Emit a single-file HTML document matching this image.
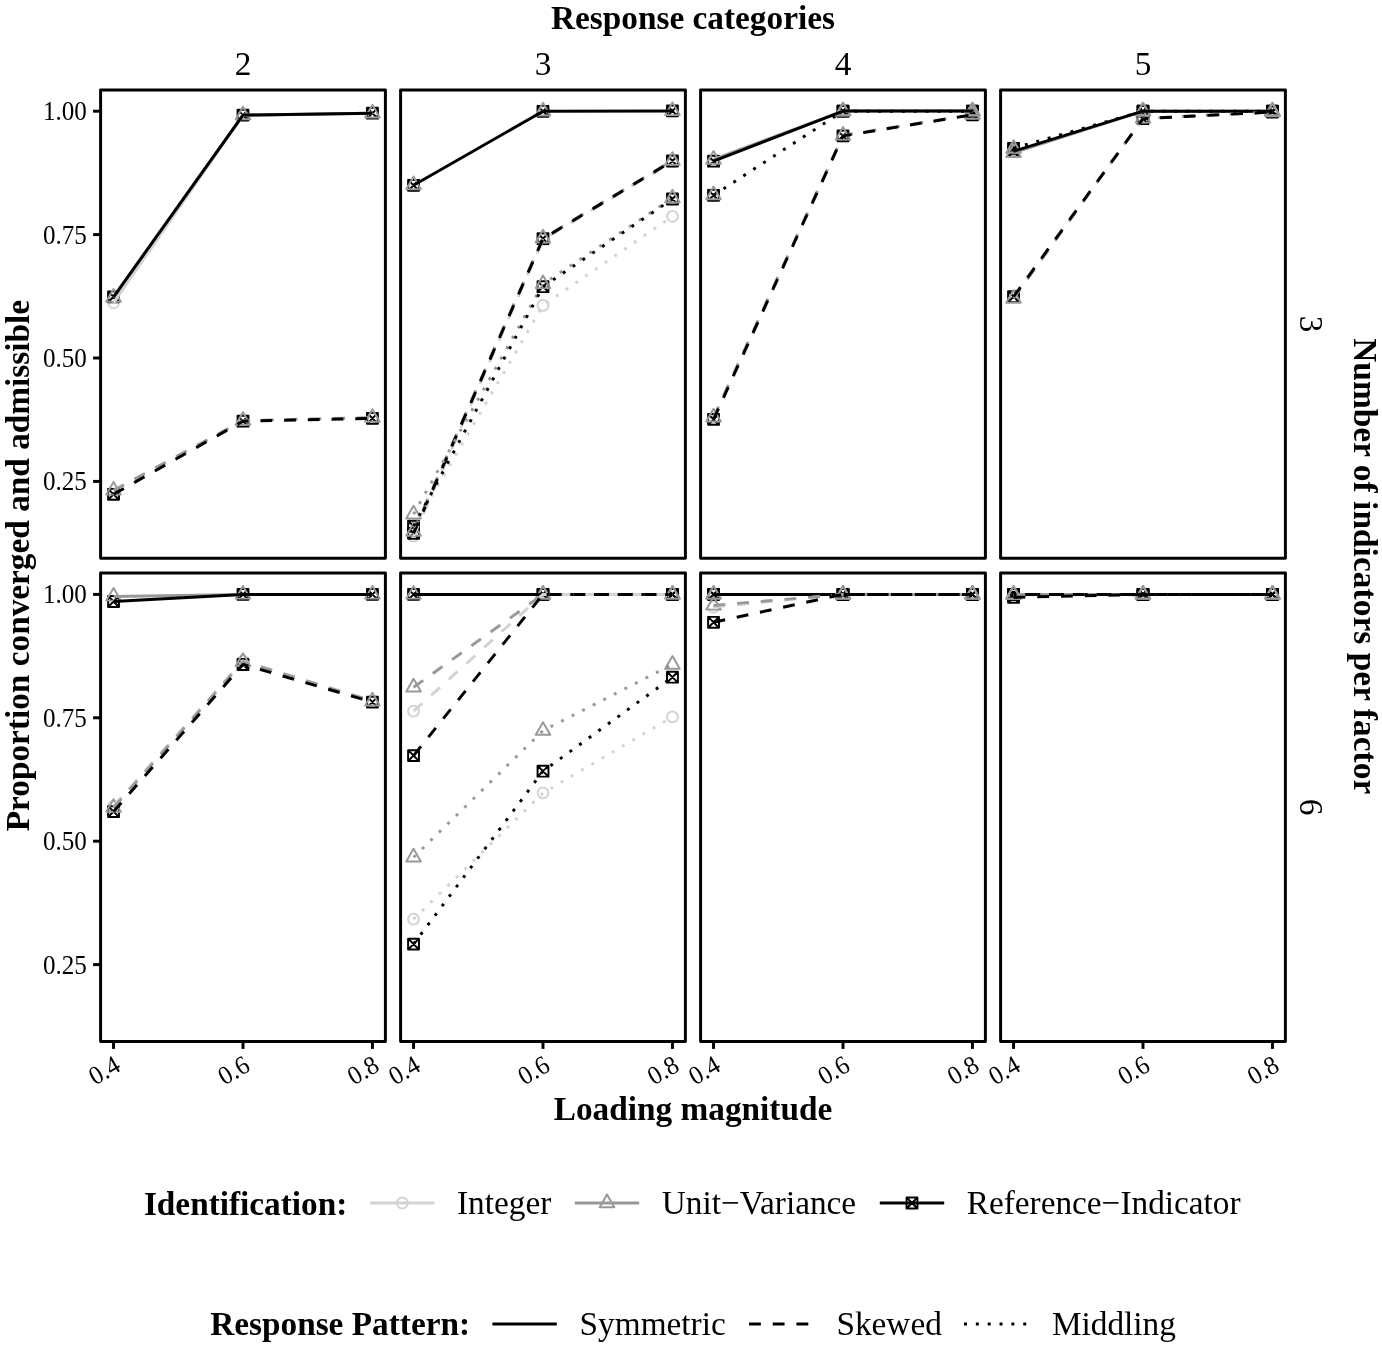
<!DOCTYPE html>
<html lang="en"><head><meta charset="utf-8"><title>Proportion converged and admissible</title>
<style>
html,body{margin:0;padding:0;background:#fff}
svg{display:block}
text{font-family:"Liberation Serif",serif;fill:#000}
.b{font-weight:bold;font-size:33.3px}
.s{font-size:33.3px}
.a{font-size:26.3px}
.ln{fill:none;stroke-width:2.964;stroke-linejoin:round;stroke-linecap:butt}
.pt{fill:none;stroke-width:1.97;stroke-linejoin:round;stroke-linecap:round}
</style></head><body>
<svg width="1382" height="1347" viewBox="0 0 1382 1347">
<rect width="1382" height="1347" fill="#fff"/>
<text class="b" x="693" y="28.9" text-anchor="middle">Response categories</text>
<text class="s" x="243" y="74.5" text-anchor="middle">2</text>
<text class="s" x="543" y="74.5" text-anchor="middle">3</text>
<text class="s" x="843" y="74.5" text-anchor="middle">4</text>
<text class="s" x="1143" y="74.5" text-anchor="middle">5</text>
<text class="s" transform="translate(1300,324.1) rotate(90)" text-anchor="middle">3</text>
<text class="s" transform="translate(1300,807.2) rotate(90)" text-anchor="middle">6</text>
<text class="b" transform="translate(1353.7,338.2) rotate(90)" textLength="456" lengthAdjust="spacing">Number of indicators per factor</text>
<text class="b" transform="translate(29.3,565.6) rotate(-90)" text-anchor="middle">Proportion converged and admissible</text>
<text class="b" x="693" y="1120" text-anchor="middle">Loading magnitude</text>
<text class="a" x="86.8" y="120.1" text-anchor="end" textLength="43.9" lengthAdjust="spacingAndGlyphs">1.00</text>
<line class="ln" stroke="#000" x1="93.1" x2="100.6" y1="111.2" y2="111.2"/>
<text class="a" x="86.8" y="243.5" text-anchor="end" textLength="43.9" lengthAdjust="spacingAndGlyphs">0.75</text>
<line class="ln" stroke="#000" x1="93.1" x2="100.6" y1="234.6" y2="234.6"/>
<text class="a" x="86.8" y="366.9" text-anchor="end" textLength="43.9" lengthAdjust="spacingAndGlyphs">0.50</text>
<line class="ln" stroke="#000" x1="93.1" x2="100.6" y1="358" y2="358"/>
<text class="a" x="86.8" y="490.3" text-anchor="end" textLength="43.9" lengthAdjust="spacingAndGlyphs">0.25</text>
<line class="ln" stroke="#000" x1="93.1" x2="100.6" y1="481.4" y2="481.4"/>
<text class="a" x="86.8" y="603.3" text-anchor="end" textLength="43.9" lengthAdjust="spacingAndGlyphs">1.00</text>
<line class="ln" stroke="#000" x1="93.1" x2="100.6" y1="594.4" y2="594.4"/>
<text class="a" x="86.8" y="726.7" text-anchor="end" textLength="43.9" lengthAdjust="spacingAndGlyphs">0.75</text>
<line class="ln" stroke="#000" x1="93.1" x2="100.6" y1="717.8" y2="717.8"/>
<text class="a" x="86.8" y="850.1" text-anchor="end" textLength="43.9" lengthAdjust="spacingAndGlyphs">0.50</text>
<line class="ln" stroke="#000" x1="93.1" x2="100.6" y1="841.2" y2="841.2"/>
<text class="a" x="86.8" y="973.5" text-anchor="end" textLength="43.9" lengthAdjust="spacingAndGlyphs">0.25</text>
<line class="ln" stroke="#000" x1="93.1" x2="100.6" y1="964.6" y2="964.6"/>
<line class="ln" stroke="#000" x1="113.55" x2="113.55" y1="1041.4" y2="1048.9"/>
<text class="a" transform="translate(112.85,1054.1) rotate(-30)" text-anchor="end" dy="0.7em" textLength="31.4" lengthAdjust="spacingAndGlyphs">0.4</text>
<line class="ln" stroke="#000" x1="243" x2="243" y1="1041.4" y2="1048.9"/>
<text class="a" transform="translate(242.3,1054.1) rotate(-30)" text-anchor="end" dy="0.7em" textLength="31.4" lengthAdjust="spacingAndGlyphs">0.6</text>
<line class="ln" stroke="#000" x1="372.45" x2="372.45" y1="1041.4" y2="1048.9"/>
<text class="a" transform="translate(371.75,1054.1) rotate(-30)" text-anchor="end" dy="0.7em" textLength="31.4" lengthAdjust="spacingAndGlyphs">0.8</text>
<line class="ln" stroke="#000" x1="413.55" x2="413.55" y1="1041.4" y2="1048.9"/>
<text class="a" transform="translate(412.85,1054.1) rotate(-30)" text-anchor="end" dy="0.7em" textLength="31.4" lengthAdjust="spacingAndGlyphs">0.4</text>
<line class="ln" stroke="#000" x1="543" x2="543" y1="1041.4" y2="1048.9"/>
<text class="a" transform="translate(542.3,1054.1) rotate(-30)" text-anchor="end" dy="0.7em" textLength="31.4" lengthAdjust="spacingAndGlyphs">0.6</text>
<line class="ln" stroke="#000" x1="672.45" x2="672.45" y1="1041.4" y2="1048.9"/>
<text class="a" transform="translate(671.75,1054.1) rotate(-30)" text-anchor="end" dy="0.7em" textLength="31.4" lengthAdjust="spacingAndGlyphs">0.8</text>
<line class="ln" stroke="#000" x1="713.55" x2="713.55" y1="1041.4" y2="1048.9"/>
<text class="a" transform="translate(712.85,1054.1) rotate(-30)" text-anchor="end" dy="0.7em" textLength="31.4" lengthAdjust="spacingAndGlyphs">0.4</text>
<line class="ln" stroke="#000" x1="843" x2="843" y1="1041.4" y2="1048.9"/>
<text class="a" transform="translate(842.3,1054.1) rotate(-30)" text-anchor="end" dy="0.7em" textLength="31.4" lengthAdjust="spacingAndGlyphs">0.6</text>
<line class="ln" stroke="#000" x1="972.45" x2="972.45" y1="1041.4" y2="1048.9"/>
<text class="a" transform="translate(971.75,1054.1) rotate(-30)" text-anchor="end" dy="0.7em" textLength="31.4" lengthAdjust="spacingAndGlyphs">0.8</text>
<line class="ln" stroke="#000" x1="1013.55" x2="1013.55" y1="1041.4" y2="1048.9"/>
<text class="a" transform="translate(1012.85,1054.1) rotate(-30)" text-anchor="end" dy="0.7em" textLength="31.4" lengthAdjust="spacingAndGlyphs">0.4</text>
<line class="ln" stroke="#000" x1="1143" x2="1143" y1="1041.4" y2="1048.9"/>
<text class="a" transform="translate(1142.3,1054.1) rotate(-30)" text-anchor="end" dy="0.7em" textLength="31.4" lengthAdjust="spacingAndGlyphs">0.6</text>
<line class="ln" stroke="#000" x1="1272.45" x2="1272.45" y1="1041.4" y2="1048.9"/>
<text class="a" transform="translate(1271.75,1054.1) rotate(-30)" text-anchor="end" dy="0.7em" textLength="31.4" lengthAdjust="spacingAndGlyphs">0.8</text>
<g>
<g class="pt"><circle cx="113.55" cy="302.8" r="5.43" stroke="#d3d3d3"/><circle cx="243" cy="115.1" r="5.43" stroke="#d3d3d3"/><circle cx="372.45" cy="113.2" r="5.43" stroke="#d3d3d3"/><circle cx="113.55" cy="494" r="5.43" stroke="#d3d3d3"/><circle cx="243" cy="421.2" r="5.43" stroke="#d3d3d3"/><circle cx="372.45" cy="418.3" r="5.43" stroke="#d3d3d3"/><path d="M108.12 291.37H118.98V302.23H108.12ZM108.12 291.37L118.98 302.23M108.12 302.23L118.98 291.37" stroke="#000000"/><path d="M237.57 109.67H248.43V120.53H237.57ZM237.57 109.67L248.43 120.53M237.57 120.53L248.43 109.67" stroke="#000000"/><path d="M367.02 107.77H377.88V118.63H367.02ZM367.02 107.77L377.88 118.63M367.02 118.63L377.88 107.77" stroke="#000000"/><path d="M108.12 488.87H118.98V499.73H108.12ZM108.12 488.87L118.98 499.73M108.12 499.73L118.98 488.87" stroke="#000000"/><path d="M237.57 415.77H248.43V426.63H237.57ZM237.57 415.77L248.43 426.63M237.57 426.63L248.43 415.77" stroke="#000000"/><path d="M367.02 412.87H377.88V423.73H367.02ZM367.02 412.87L377.88 423.73M367.02 423.73L377.88 412.87" stroke="#000000"/><path d="M113.55 289.06L120.86 301.72L106.24 301.72Z" stroke="#999999"/><path d="M243 106.66L250.31 119.32L235.69 119.32Z" stroke="#999999"/><path d="M372.45 104.76L379.76 117.42L365.14 117.42Z" stroke="#999999"/><path d="M113.55 481.96L120.86 494.62L106.24 494.62Z" stroke="#999999"/><path d="M243 412.16L250.31 424.82L235.69 424.82Z" stroke="#999999"/><path d="M372.45 409.16L379.76 421.82L365.14 421.82Z" stroke="#999999"/></g>
<g class="ln"><polyline points="113.55,302.8 243,115.1 372.45,113.2" stroke="#d3d3d3"/><polyline points="113.55,297.5 243,115.1 372.45,113.2" stroke="#999999"/><polyline points="113.55,296.8 243,115.1 372.45,113.2" stroke="#000000"/><polyline points="113.55,490.4 243,420.6 372.45,417.6" stroke="#999999" stroke-dasharray="11.86 11.86"/><polyline points="113.55,494.3 243,421.2 372.45,418.3" stroke="#000000" stroke-dasharray="11.86 11.86"/></g>
<rect class="ln" x="100.6" y="89.9" width="284.8" height="468.4" stroke="#000"/>
</g>
<g>
<g class="pt"><circle cx="413.55" cy="185.6" r="5.43" stroke="#d3d3d3"/><circle cx="543" cy="111.3" r="5.43" stroke="#d3d3d3"/><circle cx="672.45" cy="110.9" r="5.43" stroke="#d3d3d3"/><circle cx="413.55" cy="536.2" r="5.43" stroke="#d3d3d3"/><circle cx="543" cy="239.6" r="5.43" stroke="#d3d3d3"/><circle cx="672.45" cy="161.6" r="5.43" stroke="#d3d3d3"/><circle cx="413.55" cy="527.2" r="5.43" stroke="#d3d3d3"/><circle cx="543" cy="305.4" r="5.43" stroke="#d3d3d3"/><circle cx="672.45" cy="216.3" r="5.43" stroke="#d3d3d3"/><path d="M408.12 179.87H418.98V190.73H408.12ZM408.12 179.87L418.98 190.73M408.12 190.73L418.98 179.87" stroke="#000000"/><path d="M537.57 105.87H548.43V116.73H537.57ZM537.57 105.87L548.43 116.73M537.57 116.73L548.43 105.87" stroke="#000000"/><path d="M667.02 105.47H677.88V116.33H667.02ZM667.02 105.47L677.88 116.33M667.02 116.33L677.88 105.47" stroke="#000000"/><path d="M408.12 527.87H418.98V538.73H408.12ZM408.12 527.87L418.98 538.73M408.12 538.73L418.98 527.87" stroke="#000000"/><path d="M537.57 233.27H548.43V244.13H537.57ZM537.57 233.27L548.43 244.13M537.57 244.13L548.43 233.27" stroke="#000000"/><path d="M667.02 155.57H677.88V166.43H667.02ZM667.02 155.57L677.88 166.43M667.02 166.43L677.88 155.57" stroke="#000000"/><path d="M408.12 520.77H418.98V531.63H408.12ZM408.12 520.77L418.98 531.63M408.12 531.63L418.98 520.77" stroke="#000000"/><path d="M537.57 281.27H548.43V292.13H537.57ZM537.57 281.27L548.43 292.13M537.57 292.13L548.43 281.27" stroke="#000000"/><path d="M667.02 193.57H677.88V204.43H667.02ZM667.02 193.57L677.88 204.43M667.02 204.43L677.88 193.57" stroke="#000000"/><path d="M413.55 176.56L420.86 189.22L406.24 189.22Z" stroke="#999999"/><path d="M543 102.86L550.31 115.52L535.69 115.52Z" stroke="#999999"/><path d="M672.45 102.46L679.76 115.12L665.14 115.12Z" stroke="#999999"/><path d="M413.55 523.06L420.86 535.72L406.24 535.72Z" stroke="#999999"/><path d="M543 229.76L550.31 242.42L535.69 242.42Z" stroke="#999999"/><path d="M672.45 152.16L679.76 164.82L665.14 164.82Z" stroke="#999999"/><path d="M413.55 505.76L420.86 518.42L406.24 518.42Z" stroke="#999999"/><path d="M543 275.46L550.31 288.12L535.69 288.12Z" stroke="#999999"/><path d="M672.45 189.76L679.76 202.42L665.14 202.42Z" stroke="#999999"/></g>
<g class="ln"><polyline points="413.55,185.3 543,111.3 672.45,110.9" stroke="#000000"/><polyline points="413.55,536.2 543,239.6 672.45,161.6" stroke="#d3d3d3" stroke-dasharray="11.86 11.86"/><polyline points="413.55,531.5 543,238.2 672.45,160.6" stroke="#999999" stroke-dasharray="11.86 11.86"/><polyline points="413.55,533.3 543,238.7 672.45,161" stroke="#000000" stroke-dasharray="11.86 11.86"/><polyline points="413.55,527.2 543,305.4 672.45,216.3" stroke="#d3d3d3" stroke-dasharray="2.96 8.89"/><polyline points="413.55,514.2 543,283.9 672.45,198.2" stroke="#999999" stroke-dasharray="2.96 8.89"/><polyline points="413.55,526.2 543,286.7 672.45,199" stroke="#000000" stroke-dasharray="2.96 8.89"/></g>
<rect class="ln" x="400.6" y="89.9" width="284.8" height="468.4" stroke="#000"/>
</g>
<g>
<g class="pt"><circle cx="713.55" cy="161.2" r="5.43" stroke="#d3d3d3"/><circle cx="843" cy="111.1" r="5.43" stroke="#d3d3d3"/><circle cx="972.45" cy="111.1" r="5.43" stroke="#d3d3d3"/><circle cx="713.55" cy="419" r="5.43" stroke="#d3d3d3"/><circle cx="843" cy="135.9" r="5.43" stroke="#d3d3d3"/><circle cx="972.45" cy="114.8" r="5.43" stroke="#d3d3d3"/><circle cx="713.55" cy="195.3" r="5.43" stroke="#d3d3d3"/><circle cx="843" cy="111.2" r="5.43" stroke="#d3d3d3"/><circle cx="972.45" cy="111.2" r="5.43" stroke="#d3d3d3"/><path d="M708.12 155.77H718.98V166.63H708.12ZM708.12 155.77L718.98 166.63M708.12 166.63L718.98 155.77" stroke="#000000"/><path d="M837.57 105.67H848.43V116.53H837.57ZM837.57 105.67L848.43 116.53M837.57 116.53L848.43 105.67" stroke="#000000"/><path d="M967.02 105.67H977.88V116.53H967.02ZM967.02 105.67L977.88 116.53M967.02 116.53L977.88 105.67" stroke="#000000"/><path d="M708.12 413.97H718.98V424.83H708.12ZM708.12 413.97L718.98 424.83M708.12 424.83L718.98 413.97" stroke="#000000"/><path d="M837.57 130.47H848.43V141.33H837.57ZM837.57 130.47L848.43 141.33M837.57 141.33L848.43 130.47" stroke="#000000"/><path d="M967.02 109.37H977.88V120.23H967.02ZM967.02 109.37L977.88 120.23M967.02 120.23L977.88 109.37" stroke="#000000"/><path d="M708.12 189.87H718.98V200.73H708.12ZM708.12 189.87L718.98 200.73M708.12 200.73L718.98 189.87" stroke="#000000"/><path d="M837.57 105.77H848.43V116.63H837.57ZM837.57 105.77L848.43 116.63M837.57 116.63L848.43 105.77" stroke="#000000"/><path d="M967.02 105.77H977.88V116.63H967.02ZM967.02 105.77L977.88 116.63M967.02 116.63L977.88 105.77" stroke="#000000"/><path d="M713.55 151.06L720.86 163.72L706.24 163.72Z" stroke="#999999"/><path d="M843 102.66L850.31 115.32L835.69 115.32Z" stroke="#999999"/><path d="M972.45 102.66L979.76 115.32L965.14 115.32Z" stroke="#999999"/><path d="M713.55 408.86L720.86 421.52L706.24 421.52Z" stroke="#999999"/><path d="M843 126.96L850.31 139.62L835.69 139.62Z" stroke="#999999"/><path d="M972.45 106.16L979.76 118.82L965.14 118.82Z" stroke="#999999"/><path d="M713.55 186.56L720.86 199.22L706.24 199.22Z" stroke="#999999"/><path d="M843 102.76L850.31 115.42L835.69 115.42Z" stroke="#999999"/><path d="M972.45 102.76L979.76 115.42L965.14 115.42Z" stroke="#999999"/></g>
<g class="ln"><polyline points="713.55,159.5 843,111.1 972.45,111.1" stroke="#999999"/><polyline points="713.55,161.2 843,111.1 972.45,111.1" stroke="#000000"/><polyline points="713.55,417.3 843,135.4 972.45,114.6" stroke="#999999" stroke-dasharray="11.86 11.86"/><polyline points="713.55,419.4 843,135.9 972.45,114.8" stroke="#000000" stroke-dasharray="11.86 11.86"/><polyline points="713.55,195.3 843,111.2 972.45,111.2" stroke="#000000" stroke-dasharray="2.96 8.89"/></g>
<rect class="ln" x="700.6" y="89.9" width="284.8" height="468.4" stroke="#000"/>
</g>
<g>
<g class="pt"><circle cx="1013.55" cy="151.4" r="5.43" stroke="#d3d3d3"/><circle cx="1143" cy="111.2" r="5.43" stroke="#d3d3d3"/><circle cx="1272.45" cy="111.2" r="5.43" stroke="#d3d3d3"/><circle cx="1013.55" cy="297" r="5.43" stroke="#d3d3d3"/><circle cx="1143" cy="118.7" r="5.43" stroke="#d3d3d3"/><circle cx="1272.45" cy="112" r="5.43" stroke="#d3d3d3"/><circle cx="1013.55" cy="148.5" r="5.43" stroke="#d3d3d3"/><circle cx="1143" cy="111.2" r="5.43" stroke="#d3d3d3"/><circle cx="1272.45" cy="111.2" r="5.43" stroke="#d3d3d3"/><path d="M1008.12 145.87H1018.98V156.73H1008.12ZM1008.12 145.87L1018.98 156.73M1008.12 156.73L1018.98 145.87" stroke="#000000"/><path d="M1137.57 105.77H1148.43V116.63H1137.57ZM1137.57 105.77L1148.43 116.63M1137.57 116.63L1148.43 105.77" stroke="#000000"/><path d="M1267.02 105.77H1277.88V116.63H1267.02ZM1267.02 105.77L1277.88 116.63M1267.02 116.63L1277.88 105.77" stroke="#000000"/><path d="M1008.12 291.27H1018.98V302.13H1008.12ZM1008.12 291.27L1018.98 302.13M1008.12 302.13L1018.98 291.27" stroke="#000000"/><path d="M1137.57 113.27H1148.43V124.13H1137.57ZM1137.57 113.27L1148.43 124.13M1137.57 124.13L1148.43 113.27" stroke="#000000"/><path d="M1267.02 106.57H1277.88V117.43H1267.02ZM1267.02 106.57L1277.88 117.43M1267.02 117.43L1277.88 106.57" stroke="#000000"/><path d="M1008.12 142.87H1018.98V153.73H1008.12ZM1008.12 142.87L1018.98 153.73M1008.12 153.73L1018.98 142.87" stroke="#000000"/><path d="M1137.57 105.77H1148.43V116.63H1137.57ZM1137.57 105.77L1148.43 116.63M1137.57 116.63L1148.43 105.77" stroke="#000000"/><path d="M1267.02 105.77H1277.88V116.63H1267.02ZM1267.02 105.77L1277.88 116.63M1267.02 116.63L1277.88 105.77" stroke="#000000"/><path d="M1013.55 144.36L1020.86 157.02L1006.24 157.02Z" stroke="#999999"/><path d="M1143 102.76L1150.31 115.42L1135.69 115.42Z" stroke="#999999"/><path d="M1272.45 102.76L1279.76 115.42L1265.14 115.42Z" stroke="#999999"/><path d="M1013.55 290.06L1020.86 302.72L1006.24 302.72Z" stroke="#999999"/><path d="M1143 109.96L1150.31 122.62L1135.69 122.62Z" stroke="#999999"/><path d="M1272.45 103.56L1279.76 116.22L1265.14 116.22Z" stroke="#999999"/><path d="M1013.55 140.16L1020.86 152.82L1006.24 152.82Z" stroke="#999999"/><path d="M1143 102.76L1150.31 115.42L1135.69 115.42Z" stroke="#999999"/><path d="M1272.45 102.76L1279.76 115.42L1265.14 115.42Z" stroke="#999999"/></g>
<g class="ln"><polyline points="1013.55,152.8 1143,111.2 1272.45,111.2" stroke="#999999"/><polyline points="1013.55,151.3 1143,111.2 1272.45,111.2" stroke="#000000"/><polyline points="1013.55,298.5 1143,118.4 1272.45,112" stroke="#999999" stroke-dasharray="11.86 11.86"/><polyline points="1013.55,296.7 1143,118.7 1272.45,112" stroke="#000000" stroke-dasharray="11.86 11.86"/><polyline points="1013.55,148.3 1143,111.2 1272.45,111.2" stroke="#000000" stroke-dasharray="2.96 8.89"/></g>
<rect class="ln" x="1000.6" y="89.9" width="284.8" height="468.4" stroke="#000"/>
</g>
<g>
<g class="pt"><circle cx="113.55" cy="601.5" r="5.43" stroke="#d3d3d3"/><circle cx="243" cy="594.4" r="5.43" stroke="#d3d3d3"/><circle cx="372.45" cy="594.4" r="5.43" stroke="#d3d3d3"/><circle cx="113.55" cy="806.2" r="5.43" stroke="#d3d3d3"/><circle cx="243" cy="660.8" r="5.43" stroke="#d3d3d3"/><circle cx="372.45" cy="700.8" r="5.43" stroke="#d3d3d3"/><path d="M108.12 596.07H118.98V606.93H108.12ZM108.12 596.07L118.98 606.93M108.12 606.93L118.98 596.07" stroke="#000000"/><path d="M237.57 588.97H248.43V599.83H237.57ZM237.57 588.97L248.43 599.83M237.57 599.83L248.43 588.97" stroke="#000000"/><path d="M367.02 588.97H377.88V599.83H367.02ZM367.02 588.97L377.88 599.83M367.02 599.83L377.88 588.97" stroke="#000000"/><path d="M108.12 806.17H118.98V817.03H108.12ZM108.12 806.17L118.98 817.03M108.12 817.03L118.98 806.17" stroke="#000000"/><path d="M237.57 659.07H248.43V669.93H237.57ZM237.57 659.07L248.43 669.93M237.57 669.93L248.43 659.07" stroke="#000000"/><path d="M367.02 696.67H377.88V707.53H367.02ZM367.02 696.67L377.88 707.53M367.02 707.53L377.88 696.67" stroke="#000000"/><path d="M113.55 587.96L120.86 600.62L106.24 600.62Z" stroke="#999999"/><path d="M243 585.96L250.31 598.62L235.69 598.62Z" stroke="#999999"/><path d="M372.45 585.96L379.76 598.62L365.14 598.62Z" stroke="#999999"/><path d="M113.55 799.16L120.86 811.82L106.24 811.82Z" stroke="#999999"/><path d="M243 653.26L250.31 665.92L235.69 665.92Z" stroke="#999999"/><path d="M372.45 692.76L379.76 705.42L365.14 705.42Z" stroke="#999999"/></g>
<g class="ln"><polyline points="113.55,596.4 243,594.4 372.45,594.4" stroke="#999999"/><polyline points="113.55,601.5 243,594.4 372.45,594.4" stroke="#000000"/><polyline points="113.55,806.2 243,660.8 372.45,700.8" stroke="#d3d3d3" stroke-dasharray="11.86 11.86"/><polyline points="113.55,807.6 243,661.7 372.45,701.2" stroke="#999999" stroke-dasharray="11.86 11.86"/><polyline points="113.55,811.6 243,664.5 372.45,702.1" stroke="#000000" stroke-dasharray="11.86 11.86"/></g>
<rect class="ln" x="100.6" y="573" width="284.8" height="468.4" stroke="#000"/>
</g>
<g>
<g class="pt"><circle cx="413.55" cy="594.4" r="5.43" stroke="#d3d3d3"/><circle cx="543" cy="594.4" r="5.43" stroke="#d3d3d3"/><circle cx="672.45" cy="594.4" r="5.43" stroke="#d3d3d3"/><circle cx="413.55" cy="711.2" r="5.43" stroke="#d3d3d3"/><circle cx="543" cy="594.4" r="5.43" stroke="#d3d3d3"/><circle cx="672.45" cy="594.4" r="5.43" stroke="#d3d3d3"/><circle cx="413.55" cy="919.2" r="5.43" stroke="#d3d3d3"/><circle cx="543" cy="792.9" r="5.43" stroke="#d3d3d3"/><circle cx="672.45" cy="716.9" r="5.43" stroke="#d3d3d3"/><path d="M408.12 588.97H418.98V599.83H408.12ZM408.12 588.97L418.98 599.83M408.12 599.83L418.98 588.97" stroke="#000000"/><path d="M537.57 588.97H548.43V599.83H537.57ZM537.57 588.97L548.43 599.83M537.57 599.83L548.43 588.97" stroke="#000000"/><path d="M667.02 588.97H677.88V599.83H667.02ZM667.02 588.97L677.88 599.83M667.02 599.83L677.88 588.97" stroke="#000000"/><path d="M408.12 750.17H418.98V761.03H408.12ZM408.12 750.17L418.98 761.03M408.12 761.03L418.98 750.17" stroke="#000000"/><path d="M537.57 588.97H548.43V599.83H537.57ZM537.57 588.97L548.43 599.83M537.57 599.83L548.43 588.97" stroke="#000000"/><path d="M667.02 588.97H677.88V599.83H667.02ZM667.02 588.97L677.88 599.83M667.02 599.83L677.88 588.97" stroke="#000000"/><path d="M408.12 938.67H418.98V949.53H408.12ZM408.12 938.67L418.98 949.53M408.12 949.53L418.98 938.67" stroke="#000000"/><path d="M537.57 765.77H548.43V776.63H537.57ZM537.57 765.77L548.43 776.63M537.57 776.63L548.43 765.77" stroke="#000000"/><path d="M667.02 671.77H677.88V682.63H667.02ZM667.02 671.77L677.88 682.63M667.02 682.63L677.88 671.77" stroke="#000000"/><path d="M413.55 585.96L420.86 598.62L406.24 598.62Z" stroke="#999999"/><path d="M543 585.96L550.31 598.62L535.69 598.62Z" stroke="#999999"/><path d="M672.45 585.96L679.76 598.62L665.14 598.62Z" stroke="#999999"/><path d="M413.55 678.86L420.86 691.52L406.24 691.52Z" stroke="#999999"/><path d="M543 585.96L550.31 598.62L535.69 598.62Z" stroke="#999999"/><path d="M672.45 585.96L679.76 598.62L665.14 598.62Z" stroke="#999999"/><path d="M413.55 848.86L420.86 861.52L406.24 861.52Z" stroke="#999999"/><path d="M543 722.16L550.31 734.82L535.69 734.82Z" stroke="#999999"/><path d="M672.45 656.06L679.76 668.72L665.14 668.72Z" stroke="#999999"/></g>
<g class="ln"><polyline points="413.55,594.4 543,594.4 672.45,594.4" stroke="#000000"/><polyline points="413.55,711.2 543,594.4 672.45,594.4" stroke="#d3d3d3" stroke-dasharray="11.86 11.86"/><polyline points="413.55,687.3 543,594.4 672.45,594.4" stroke="#999999" stroke-dasharray="11.86 11.86"/><polyline points="413.55,755.6 543,594.4 672.45,594.4" stroke="#000000" stroke-dasharray="11.86 11.86"/><polyline points="413.55,919.2 543,792.9 672.45,716.9" stroke="#d3d3d3" stroke-dasharray="2.96 8.89"/><polyline points="413.55,857.3 543,730.6 672.45,664.5" stroke="#999999" stroke-dasharray="2.96 8.89"/><polyline points="413.55,944.1 543,771.2 672.45,677.2" stroke="#000000" stroke-dasharray="2.96 8.89"/></g>
<rect class="ln" x="400.6" y="573" width="284.8" height="468.4" stroke="#000"/>
</g>
<g>
<g class="pt"><circle cx="713.55" cy="594.4" r="5.43" stroke="#d3d3d3"/><circle cx="843" cy="594.4" r="5.43" stroke="#d3d3d3"/><circle cx="972.45" cy="594.4" r="5.43" stroke="#d3d3d3"/><circle cx="713.55" cy="607" r="5.43" stroke="#d3d3d3"/><circle cx="843" cy="594.4" r="5.43" stroke="#d3d3d3"/><circle cx="972.45" cy="594.4" r="5.43" stroke="#d3d3d3"/><circle cx="713.55" cy="594.4" r="5.43" stroke="#d3d3d3"/><circle cx="843" cy="594.4" r="5.43" stroke="#d3d3d3"/><circle cx="972.45" cy="594.4" r="5.43" stroke="#d3d3d3"/><path d="M708.12 588.97H718.98V599.83H708.12ZM708.12 588.97L718.98 599.83M708.12 599.83L718.98 588.97" stroke="#000000"/><path d="M837.57 588.97H848.43V599.83H837.57ZM837.57 588.97L848.43 599.83M837.57 599.83L848.43 588.97" stroke="#000000"/><path d="M967.02 588.97H977.88V599.83H967.02ZM967.02 588.97L977.88 599.83M967.02 599.83L977.88 588.97" stroke="#000000"/><path d="M708.12 616.87H718.98V627.73H708.12ZM708.12 616.87L718.98 627.73M708.12 627.73L718.98 616.87" stroke="#000000"/><path d="M837.57 588.97H848.43V599.83H837.57ZM837.57 588.97L848.43 599.83M837.57 599.83L848.43 588.97" stroke="#000000"/><path d="M967.02 588.97H977.88V599.83H967.02ZM967.02 588.97L977.88 599.83M967.02 599.83L977.88 588.97" stroke="#000000"/><path d="M708.12 588.97H718.98V599.83H708.12ZM708.12 588.97L718.98 599.83M708.12 599.83L718.98 588.97" stroke="#000000"/><path d="M837.57 588.97H848.43V599.83H837.57ZM837.57 588.97L848.43 599.83M837.57 599.83L848.43 588.97" stroke="#000000"/><path d="M967.02 588.97H977.88V599.83H967.02ZM967.02 588.97L977.88 599.83M967.02 599.83L977.88 588.97" stroke="#000000"/><path d="M713.55 585.96L720.86 598.62L706.24 598.62Z" stroke="#999999"/><path d="M843 585.96L850.31 598.62L835.69 598.62Z" stroke="#999999"/><path d="M972.45 585.96L979.76 598.62L965.14 598.62Z" stroke="#999999"/><path d="M713.55 596.96L720.86 609.62L706.24 609.62Z" stroke="#999999"/><path d="M843 585.96L850.31 598.62L835.69 598.62Z" stroke="#999999"/><path d="M972.45 585.96L979.76 598.62L965.14 598.62Z" stroke="#999999"/><path d="M713.55 585.96L720.86 598.62L706.24 598.62Z" stroke="#999999"/><path d="M843 585.96L850.31 598.62L835.69 598.62Z" stroke="#999999"/><path d="M972.45 585.96L979.76 598.62L965.14 598.62Z" stroke="#999999"/></g>
<g class="ln"><polyline points="713.55,594.4 843,594.4 972.45,594.4" stroke="#000000"/><polyline points="713.55,607 843,594.4 972.45,594.4" stroke="#d3d3d3" stroke-dasharray="11.86 11.86"/><polyline points="713.55,605.4 843,594.4 972.45,594.4" stroke="#999999" stroke-dasharray="11.86 11.86"/><polyline points="713.55,622.3 843,594.4 972.45,594.4" stroke="#000000" stroke-dasharray="11.86 11.86"/><polyline points="713.55,594.4 843,594.4 972.45,594.4" stroke="#000000" stroke-dasharray="2.96 8.89"/></g>
<rect class="ln" x="700.6" y="573" width="284.8" height="468.4" stroke="#000"/>
</g>
<g>
<g class="pt"><circle cx="1013.55" cy="594.4" r="5.43" stroke="#d3d3d3"/><circle cx="1143" cy="594.4" r="5.43" stroke="#d3d3d3"/><circle cx="1272.45" cy="594.4" r="5.43" stroke="#d3d3d3"/><circle cx="1013.55" cy="594.7" r="5.43" stroke="#d3d3d3"/><circle cx="1143" cy="594.4" r="5.43" stroke="#d3d3d3"/><circle cx="1272.45" cy="594.4" r="5.43" stroke="#d3d3d3"/><circle cx="1013.55" cy="594.4" r="5.43" stroke="#d3d3d3"/><circle cx="1143" cy="594.4" r="5.43" stroke="#d3d3d3"/><circle cx="1272.45" cy="594.4" r="5.43" stroke="#d3d3d3"/><path d="M1008.12 588.97H1018.98V599.83H1008.12ZM1008.12 588.97L1018.98 599.83M1008.12 599.83L1018.98 588.97" stroke="#000000"/><path d="M1137.57 588.97H1148.43V599.83H1137.57ZM1137.57 588.97L1148.43 599.83M1137.57 599.83L1148.43 588.97" stroke="#000000"/><path d="M1267.02 588.97H1277.88V599.83H1267.02ZM1267.02 588.97L1277.88 599.83M1267.02 599.83L1277.88 588.97" stroke="#000000"/><path d="M1008.12 591.97H1018.98V602.83H1008.12ZM1008.12 591.97L1018.98 602.83M1008.12 602.83L1018.98 591.97" stroke="#000000"/><path d="M1137.57 588.97H1148.43V599.83H1137.57ZM1137.57 588.97L1148.43 599.83M1137.57 599.83L1148.43 588.97" stroke="#000000"/><path d="M1267.02 588.97H1277.88V599.83H1267.02ZM1267.02 588.97L1277.88 599.83M1267.02 599.83L1277.88 588.97" stroke="#000000"/><path d="M1008.12 588.97H1018.98V599.83H1008.12ZM1008.12 588.97L1018.98 599.83M1008.12 599.83L1018.98 588.97" stroke="#000000"/><path d="M1137.57 588.97H1148.43V599.83H1137.57ZM1137.57 588.97L1148.43 599.83M1137.57 599.83L1148.43 588.97" stroke="#000000"/><path d="M1267.02 588.97H1277.88V599.83H1267.02ZM1267.02 588.97L1277.88 599.83M1267.02 599.83L1277.88 588.97" stroke="#000000"/><path d="M1013.55 585.96L1020.86 598.62L1006.24 598.62Z" stroke="#999999"/><path d="M1143 585.96L1150.31 598.62L1135.69 598.62Z" stroke="#999999"/><path d="M1272.45 585.96L1279.76 598.62L1265.14 598.62Z" stroke="#999999"/><path d="M1013.55 586.26L1020.86 598.92L1006.24 598.92Z" stroke="#999999"/><path d="M1143 585.96L1150.31 598.62L1135.69 598.62Z" stroke="#999999"/><path d="M1272.45 585.96L1279.76 598.62L1265.14 598.62Z" stroke="#999999"/><path d="M1013.55 585.96L1020.86 598.62L1006.24 598.62Z" stroke="#999999"/><path d="M1143 585.96L1150.31 598.62L1135.69 598.62Z" stroke="#999999"/><path d="M1272.45 585.96L1279.76 598.62L1265.14 598.62Z" stroke="#999999"/></g>
<g class="ln"><polyline points="1013.55,594.4 1143,594.4 1272.45,594.4" stroke="#000000"/><polyline points="1013.55,594.7 1143,594.4 1272.45,594.4" stroke="#d3d3d3" stroke-dasharray="11.86 11.86"/><polyline points="1013.55,594.7 1143,594.4 1272.45,594.4" stroke="#999999" stroke-dasharray="11.86 11.86"/><polyline points="1013.55,597.4 1143,594.4 1272.45,594.4" stroke="#000000" stroke-dasharray="11.86 11.86"/><polyline points="1013.55,594.4 1143,594.4 1272.45,594.4" stroke="#000000" stroke-dasharray="2.96 8.89"/></g>
<rect class="ln" x="1000.6" y="573" width="284.8" height="468.4" stroke="#000"/>
</g>
<text class="b" x="143.9" y="1215">Identification:</text>
<line class="ln" stroke="#d3d3d3" x1="370.1" x2="434.5" y1="1203.0" y2="1203.0"/>
<g class="pt"><circle cx="402.3" cy="1203" r="5.43" stroke="#d3d3d3"/></g>
<text class="s" x="457.0" y="1214.3">Integer</text>
<line class="ln" stroke="#999999" x1="574.8" x2="639.2" y1="1203.0" y2="1203.0"/>
<g class="pt"><path d="M607 1194.56L614.31 1207.22L599.69 1207.22Z" stroke="#999999"/></g>
<text class="s" x="661.7" y="1214.3">Unit−Variance</text>
<line class="ln" stroke="#000000" x1="879.8" x2="944.2" y1="1203.0" y2="1203.0"/>
<g class="pt"><path d="M906.57 1197.57H917.43V1208.43H906.57ZM906.57 1197.57L917.43 1208.43M906.57 1208.43L917.43 1197.57" stroke="#000000"/></g>
<text class="s" x="966.7" y="1214.3">Reference−Indicator</text>
<text class="b" x="210.2" y="1335.4">Response Pattern:</text>
<line class="ln" stroke="#000" x1="492.4" x2="556.8" y1="1324.0" y2="1324.0"/>
<text class="s" x="579.6" y="1335.3">Symmetric</text>
<line class="ln" stroke="#000" x1="749" x2="813.4" y1="1324.0" y2="1324.0" stroke-dasharray="11.86 11.86"/>
<text class="s" x="836.4" y="1335.3">Skewed</text>
<line class="ln" stroke="#000" x1="964" x2="1028.4" y1="1324.0" y2="1324.0" stroke-dasharray="2.96 8.89"/>
<text class="s" x="1051.9" y="1335.3">Middling</text>
</svg></body></html>
